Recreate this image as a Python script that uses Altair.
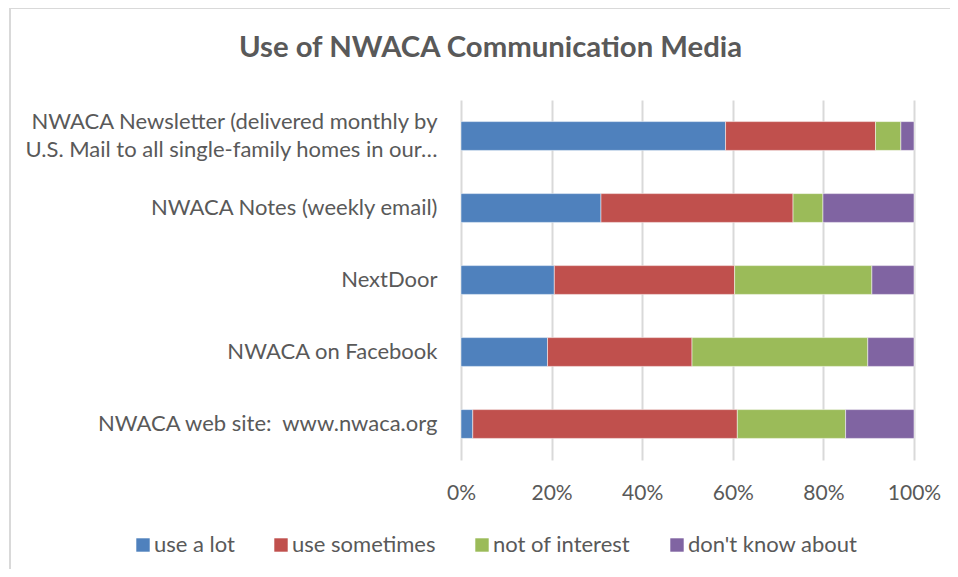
import altair as alt
import pandas as pd

categories = [
    "NWACA Newsletter (delivered monthly by|U.S. Mail to all single-family homes in our…",
    "NWACA Notes (weekly email)",
    "NextDoor",
    "NWACA on Facebook",
    "NWACA web site: \u00a0www.nwaca.org",
]
series = ["use a lot", "use sometimes", "not of interest", "don't know about"]
use_a_lot = [58.4, 30.9, 20.6, 19.1, 2.6]
use_sometimes = [33.1, 42.4, 39.8, 31.9, 58.4]
not_of_interest = [5.6, 6.6, 30.3, 38.8, 23.9]
dont_know = [2.9, 20.1, 9.3, 10.2, 15.1]
colors = ["#4F81BD", "#C0504D", "#9BBB59", "#8064A2"]

rows = []
for si, (name, vals) in enumerate(zip(series, [use_a_lot, use_sometimes, not_of_interest, dont_know])):
    for c, v in zip(categories, vals):
        rows.append({"media": c, "series": name, "order": si, "value": v})
df = pd.DataFrame(rows)

FONT = "Lato"
TXT = "#595959"

bars = alt.Chart(df).mark_bar(stroke="white", strokeWidth=0.5).encode(
    y=alt.Y("media:N", sort=categories, title=None,
            scale=alt.Scale(paddingInner=0.6, paddingOuter=0.3),
            axis=alt.Axis(labelExpr="split(datum.label, '|')", labelFontSize=22,
                          labelColor=TXT, labelFont=FONT, ticks=False, domain=False,
                          labelPadding=24, labelLimit=500, labelLineHeight=28,
                          labelOffset={"condition": {"test": "indexof(datum.value, '|') >= 0",
                                                     "value": -14}, "value": 0})),
    x=alt.X("value:Q", stack="normalize", title=None,
            axis=alt.Axis(format="%", values=[0, 0.2, 0.4, 0.6, 0.8, 1.0], grid=True,
                          gridColor="#d9d9d9", gridWidth=2, domain=False, ticks=False,
                          labelFontSize=21, labelColor=TXT, labelFont=FONT,
                          labelPadding=22, labelFlush=False, labelBound=False)),
    color=alt.Color("series:N", sort=series,
                    scale=alt.Scale(domain=series, range=colors),
                    legend=alt.Legend(title=None, orient="none", direction="horizontal",
                                      legendX=-329, legendY=434, symbolType="square",
                                      symbolSize=180, symbolStrokeWidth=0, labelFontSize=22,
                                      labelColor=TXT, labelFont=FONT, columnPadding=35,
                                      labelOffset=0, labelLimit=400)),
    order=alt.Order("order:Q"),
)

frame_df = pd.DataFrame({"k": [0]})
top_line = alt.Chart(frame_df).mark_rule(color="#d9d9d9", strokeWidth=2).encode(
    x=alt.value(-451), x2=alt.value(497), y=alt.value(-92))
left_line = alt.Chart(frame_df).mark_rule(color="#d9d9d9", strokeWidth=2).encode(
    x=alt.value(-451), y=alt.value(-92), y2=alt.value(477))

chart = alt.layer(bars, top_line, left_line).properties(
    width=453, height=360,
    autosize=alt.AutoSizeParams(type="none"),
    padding={"left": 453, "top": 92, "right": 36, "bottom": 109},
    title=alt.TitleParams("Use of NWACA Communication Media", fontSize=29.3, font=FONT,
                          fontWeight="bold", color=TXT, anchor="middle", dx=-197,
                          baseline="alphabetic", offset=-79),
).configure_view(stroke=None)

chart.save("out.html", embed_options={"renderer": "svg", "actions": False})
